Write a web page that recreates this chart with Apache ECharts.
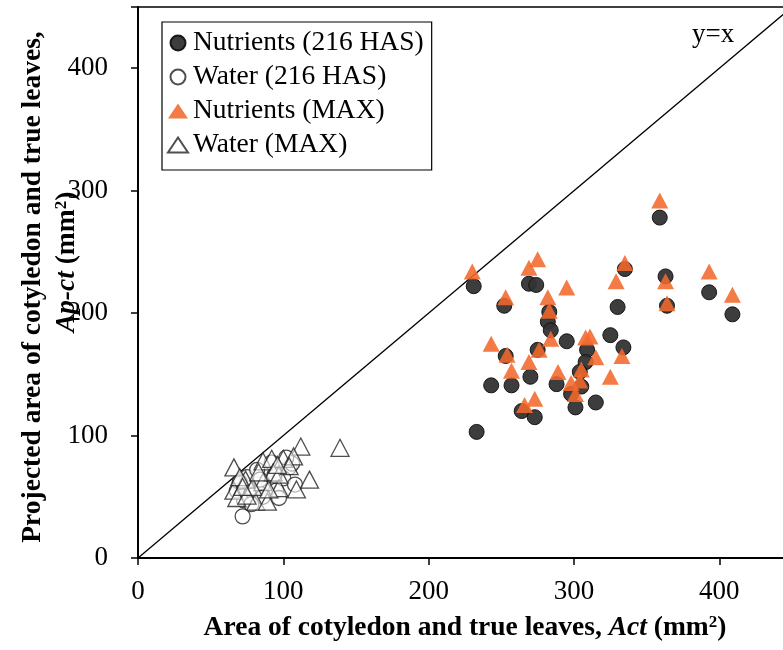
<!DOCTYPE html>
<html>
<head>
<meta charset="utf-8">
<script src="https://cdn.jsdelivr.net/npm/echarts@6/dist/echarts.min.js"></script>
<style>html,body{margin:0;padding:0;background:#fff}#c{width:783px;height:650px}</style>
</head>
<body>
<div id="c"></div>
<script>
// Data: [Act, Ap-ct] in mm2
var nutrientsHAS = [
  [231,222],[269,224],[274,223],[252,206],[335,236],[359,278],[363,230],[364,206],
  [393,217],[409,199],[330,205],[283,201],[282,193],[284,186],[295,177],[325,182],
  [334,172],[309,170],[275,170],[253,165],[308,160],[304,152],[270,148],[243,141],
  [257,141],[288,142],[305,140],[298,134],[315,127],[301,123],[264,120],[273,115],
  [233,103]
];
var waterHAS = [
  [72,34],[73,47],[80,52],[85,58],[90,62],[95,55],[97,49],[104,74],[106,77],
  [100,65],[88,70],[70,60],[68,55],[75,66],[82,72],[92,78],[108,60],[86,50],
  [78,44],[94,68],[102,82],[70,62],[84,64]
];
var nutrientsMAX = [
  [230,234],[269,237],[275,244],[253,213],[295,221],[335,241],[329,226],[359,292],
  [363,226],[364,208],[393,234],[409,215],[282,213],[283,202],[284,179],[243,175],
  [254,166],[276,170],[308,180],[311,181],[315,164],[333,165],[269,160],[257,153],
  [289,152],[305,154],[325,148],[298,143],[304,145],[301,134],[273,130],[266,125]
];
var waterMAX = [
  [112,91],[139,90],[66,74],[86,79],[92,81],[100,81],[107,83],[74,64],[86,62],
  [93,70],[118,64],[109,56],[66,55],[68,49],[81,46],[89,46],[97,57],[75,51],
  [79,58],[97,68],[70,66],[83,70],[104,75],[90,56],[72,58],[96,76]
];
var identityLine = [[0,0],[450,450]];
var seriesNames = ['Nutrients (216 HAS)','Water (216 HAS)','Nutrients (MAX)','Water (MAX)'];
var xTicks = {min:0, max:450, interval:100};
var yTicks = {min:0, max:450, interval:100};
var xTitle = 'Area of cotyledon and true leaves, {i|Act} (mm{sup|2})';
var yTitle1 = 'Projected area of cotyledon and true leaves,';
var yTitle2 = '{i|Ap-ct} (mm{sup|2})';

var FONT = '"Liberation Serif","Times New Roman",serif';
var richY = {i:{font:'italic bold 27.5px '+FONT, fill:'#000'},
             sup:{font:'bold 17px '+FONT, fill:'#000', verticalAlign:'top'}};
var chart = echarts.init(document.getElementById('c'), null, {renderer:'canvas'});
chart.setOption({
  animation:false,
  backgroundColor:'#fff',
  grid:{left:138, top:7, right:-9, bottom:92, show:true, borderColor:'#000', borderWidth:1.5,
        backgroundColor:'transparent', containLabel:false, outerBoundsMode:'none'},
  legend:{
    orient:'vertical', left:162, top:22,
    data:seriesNames,
    borderColor:'#000', borderWidth:1.2, padding:[7,8,11,5],
    itemWidth:20, itemHeight:15, itemGap:6,
    textStyle:{fontFamily:FONT, fontSize:27.5, color:'#000', lineHeight:27}
  },
  xAxis:{
    type:'value', min:xTicks.min, max:xTicks.max, interval:xTicks.interval,
    splitLine:{show:false},
    axisLine:{show:true, lineStyle:{color:'#000', width:2}},
    axisTick:{show:true, inside:false, length:7, lineStyle:{color:'#000', width:1.5}},
    axisLabel:{fontFamily:FONT, fontSize:27, color:'#000', margin:20,
      formatter:function(v){return v>400?'':String(v);}},
    name:xTitle,
    nameLocation:'middle', nameGap:56,
    nameTextStyle:{fontFamily:FONT, fontSize:27.5, fontWeight:'bold', color:'#000',
      rich:{i:{fontFamily:FONT, fontSize:27.5, fontWeight:'bold', fontStyle:'italic', color:'#000'},
            sup:{fontFamily:FONT, fontSize:17, fontWeight:'bold', color:'#000', verticalAlign:'top', padding:[0,0,10,0]}}}
  },
  yAxis:{
    type:'value', min:yTicks.min, max:yTicks.max, interval:yTicks.interval,
    splitLine:{show:false},
    axisLine:{show:true, lineStyle:{color:'#000', width:2}},
    axisTick:{show:true, inside:false, length:7, lineStyle:{color:'#000', width:1.5}},
    axisLabel:{fontFamily:FONT, fontSize:27, color:'#000', margin:30,
      formatter:function(v){return v>400?'':String(v);}}
  },
  graphic:[
    {type:'text', left:692, top:21, style:{text:'y=x', font:'27px '+FONT, fill:'#000'}},
    {type:'text', x:33, y:287, rotation:Math.PI/2,
     style:{text:yTitle1, align:'center', verticalAlign:'middle', font:'bold 27.5px '+FONT, fill:'#000'}},
    {type:'text', x:67, y:262, rotation:Math.PI/2,
     style:{text:yTitle2, align:'center', verticalAlign:'middle', font:'bold 27.5px '+FONT, fill:'#000', rich:richY}}
  ],
  series:[
    {type:'line', data:identityLine, showSymbol:false, symbol:'none', silent:true,
     lineStyle:{color:'#000', width:1.3}, z:1},
    {name:seriesNames[0], type:'scatter', data:nutrientsHAS, symbol:'circle', symbolSize:15,
     itemStyle:{color:'#333333', borderColor:'#111', borderWidth:1, opacity:0.95}, z:2},
    {name:seriesNames[1], type:'scatter', data:waterHAS, symbol:'circle', symbolSize:15,
     itemStyle:{color:'#ffffff', borderColor:'#222', borderWidth:1.3}, z:3},
    {name:seriesNames[2], type:'scatter', data:nutrientsMAX, symbol:'triangle', symbolSize:[17,16],
     itemStyle:{color:'#F3692B', opacity:0.88}, z:4},
    {name:seriesNames[3], type:'scatter', data:waterMAX, symbol:'triangle', symbolSize:[18,17],
     itemStyle:{color:'rgba(255,255,255,0.7)', borderColor:'#222', borderWidth:1.3}, z:5}
  ]
});
</script>
</body>
</html>
